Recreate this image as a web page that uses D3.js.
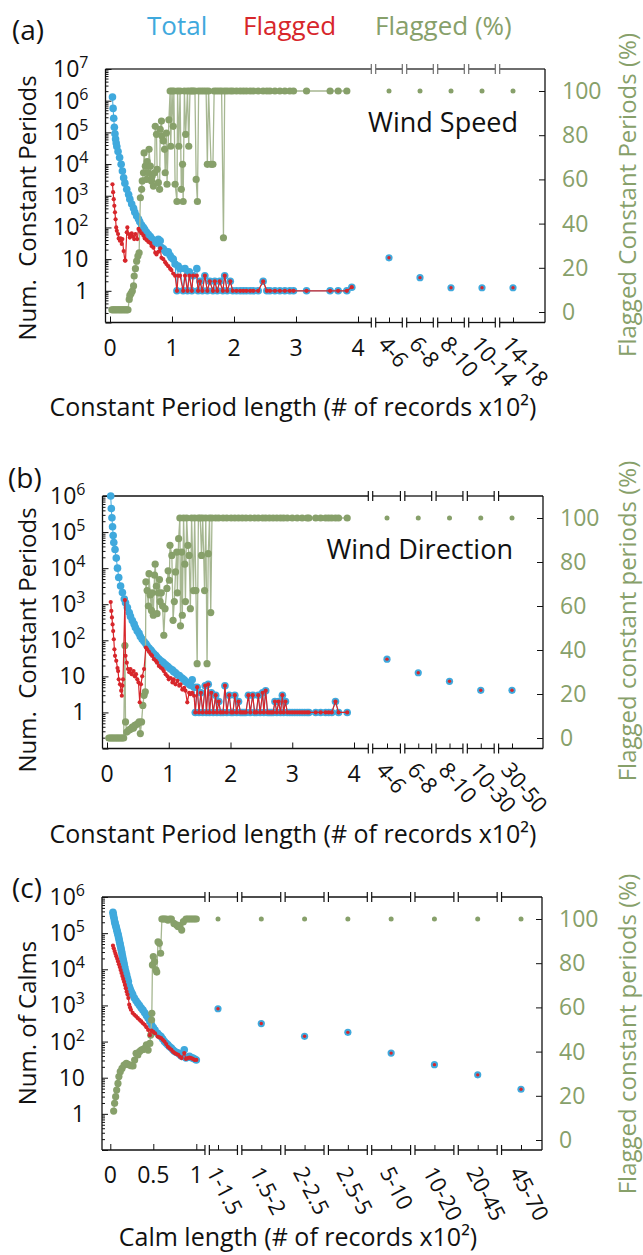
<!DOCTYPE html>
<html lang="en">
<head>
<meta charset="UTF-8">
<title>Constant periods and calms</title>
<script src="https://d3js.org/d3.v7.min.js"></script>
<style>
  body { margin: 0; background: #fff; }
  svg { display: block; font-family: "Open Sans", "Noto Sans", sans-serif; }
  .lbl { fill: #111; }
  .green { fill: #87a06a; }
</style>
</head>
<body>
<svg width="643" height="1255"></svg>
<script>
const BLUE = "#3fa9dd", RED = "#d7262b", GREEN = "#87a06a", GREEN_LINE = "#a6b791";

// (a) wind speed: [length x100 records, count]
const speedTotal = [[0.04,1.3e6],[0.05,5.7e5],[0.06,2.8e5],[0.07,1.45e5],[0.08,9e4],[0.09,6.2e4],[0.10,4.6e4],[0.11,3.6e4],[0.13,2.5e4],[0.155,1.6e4],[0.18,9.8e3],[0.20,6e3],[0.22,3.7e3],[0.24,2.5e3],[0.27,1.6e3],[0.30,1.1e3],[0.32,780],[0.35,550],[0.38,400],[0.40,300],[0.43,230],[0.46,183],[0.48,150],[0.51,120],[0.54,100],[0.56,85],[0.59,70],[0.62,60],[0.65,52],[0.67,45],[0.70,40],[0.73,35],[0.75,32],[0.78,42],[0.81,38],[0.83,23],[0.86,21],[0.89,18],[0.91,16],[0.94,17],[0.97,13],[0.99,11],[1.02,10],[1.05,7],[1.08,1],[1.10,6],[1.13,5],[1.18,1],[1.21,5],[1.25,1],[1.28,4],[1.32,1],[1.34,3],[1.40,5],[1.42,1],[1.45,2],[1.49,1],[1.53,3],[1.57,1],[1.61,2],[1.66,1],[1.69,2],[1.73,1],[1.77,2],[1.82,1],[1.85,3],[1.89,1],[1.94,2],[1.98,1],[2.04,1],[2.10,1],[2.15,1],[2.20,1],[2.26,1],[2.31,1],[2.39,1],[2.47,2],[2.53,1],[2.58,1],[2.66,1],[2.74,1],[2.82,1],[2.90,1],[2.96,1],[3.17,1],[3.55,1],[3.68,1],[3.82,1],[3.90,1.3]];
const speedFlagged = [[0.04,2300],[0.05,1300],[0.06,780],[0.07,480],[0.08,300],[0.09,180],[0.10,100],[0.11,78],[0.13,62],[0.14,45],[0.16,38],[0.17,45],[0.19,30],[0.20,43],[0.22,18],[0.24,9],[0.25,9],[0.27,70],[0.28,100],[0.30,62],[0.32,48],[0.33,55],[0.35,65],[0.37,52],[0.39,43],[0.41,62],[0.44,43],[0.46,90],[0.48,78],[0.51,65],[0.54,55],[0.56,45],[0.59,40],[0.62,35],[0.65,32],[0.67,26],[0.70,23],[0.73,16],[0.75,14],[0.78,17],[0.81,22],[0.83,11],[0.86,10],[0.89,8],[0.91,7],[0.94,6],[0.97,5],[0.99,4.5],[1.02,3.5],[1.05,3],[1.08,1],[1.10,3],[1.13,3],[1.18,1],[1.21,3],[1.25,1],[1.28,3],[1.32,1],[1.34,3],[1.40,3],[1.42,1],[1.45,2],[1.49,1],[1.53,3],[1.57,1],[1.61,2],[1.66,1],[1.69,2],[1.73,1],[1.77,2],[1.82,1],[1.85,3],[1.89,1],[1.94,2],[1.98,1],[2.04,1],[2.10,1],[2.15,1],[2.20,1],[2.26,1],[2.31,1],[2.39,1],[2.47,2],[2.53,1],[2.58,1],[2.66,1],[2.74,1],[2.82,1],[2.90,1],[2.96,1],[3.17,1],[3.55,1],[3.68,1],[3.82,1],[3.90,1.3]];
const speedPct = [[0.03,1],[0.05,1],[0.07,1],[0.09,1],[0.11,1],[0.13,1],[0.15,1],[0.17,1],[0.19,1],[0.21,1],[0.23,1],[0.25,1],[0.27,1],[0.29,1],[0.31,5.7],[0.32,7.5],[0.34,8.4],[0.36,9.5],[0.38,11.8],[0.39,16.3],[0.41,19.6],[0.43,23],[0.45,25.3],[0.47,26.8],[0.49,51.7],[0.51,55.5],[0.52,59.3],[0.54,63],[0.55,72],[0.57,66],[0.59,60],[0.60,68],[0.62,63],[0.63,73.6],[0.65,66],[0.67,59.3],[0.68,61.5],[0.70,57],[0.72,63],[0.73,84],[0.75,80.4],[0.76,64.6],[0.78,58.5],[0.80,55.5],[0.81,82.7],[0.83,86.4],[0.84,79.6],[0.86,77.4],[0.88,73.6],[0.89,63],[0.91,81],[0.92,57.8],[0.95,87],[0.97,100],[0.98,75],[1.00,100],[1.02,84],[1.03,100],[1.05,57.8],[1.08,50],[1.09,100],[1.11,75],[1.13,100],[1.15,55.5],[1.17,66.8],[1.18,50],[1.20,100],[1.22,80.4],[1.25,100],[1.27,75],[1.29,100],[1.32,100],[1.34,100],[1.37,100],[1.39,60],[1.41,50],[1.43,100],[1.47,100],[1.51,100],[1.55,100],[1.57,66.8],[1.59,100],[1.63,66.8],[1.66,66.8],[1.68,100],[1.72,100],[1.76,100],[1.80,100],[1.83,33.6],[1.85,100],[1.89,100],[1.94,100],[1.98,100],[2.04,100],[2.10,100],[2.15,100],[2.20,100],[2.26,100],[2.31,100],[2.39,100],[2.47,100],[2.53,100],[2.58,100],[2.66,100],[2.74,100],[2.82,100],[2.90,100],[2.96,100],[3.17,100],[3.55,100],[3.68,100],[3.82,100]];
const speedCats = ["4-6", "6-8", "8-10", "10-14", "14-18"];
const speedCatCount = [11, 2.6, 1.25, 1.25, 1.25];
const speedCatPct = [100, 100, 100, 100, 100];

// (b) wind direction
const dirTotal = [[0.06,1e6],[0.07,4.5e5],[0.08,2.5e5],[0.09,1.4e5],[0.10,8e4],[0.11,5.1e4],[0.13,3.3e4],[0.15,1.9e4],[0.17,1e4],[0.19,5.5e3],[0.22,3.2e3],[0.25,2.1e3],[0.28,1.4e3],[0.30,1.1e3],[0.33,810],[0.36,590],[0.38,460],[0.41,355],[0.44,280],[0.46,225],[0.49,182],[0.52,155],[0.54,127],[0.57,107],[0.60,92],[0.63,80],[0.65,70],[0.68,61],[0.71,54],[0.73,48],[0.76,42],[0.79,38],[0.81,34],[0.84,30],[0.87,27],[0.90,25],[0.92,23],[0.95,21],[0.98,19],[1.00,17.5],[1.03,16],[1.06,15],[1.08,13.5],[1.11,12.5],[1.14,11],[1.17,10.5],[1.19,9.6],[1.22,8.8],[1.25,8],[1.27,7.2],[1.30,6.7],[1.33,6.1],[1.35,5.7],[1.38,8],[1.41,5],[1.43,1],[1.46,5],[1.49,1],[1.52,3.5],[1.55,1],[1.59,5.5],[1.61,1],[1.64,6],[1.66,1],[1.69,3.5],[1.72,1],[1.76,3],[1.78,1],[1.81,2],[1.84,1],[1.88,1],[1.91,5.5],[1.94,1],[1.98,3],[2.01,1],[2.04,1],[2.07,3],[2.10,1],[2.13,2],[2.16,1],[2.19,1],[2.22,1],[2.25,1],[2.29,3],[2.32,1],[2.36,3],[2.39,1],[2.42,1],[2.45,3],[2.48,1],[2.52,3.5],[2.54,1],[2.57,4],[2.60,1],[2.63,1],[2.66,1],[2.69,1],[2.72,2],[2.75,1],[2.78,2],[2.81,1],[2.84,3],[2.86,1],[2.89,2],[2.92,1],[2.96,1],[3.00,1],[3.04,1],[3.08,1],[3.12,1],[3.16,1],[3.20,1],[3.24,1],[3.27,1],[3.38,1],[3.46,1],[3.54,1],[3.59,1],[3.64,1],[3.70,2],[3.75,1],[3.89,1]];
const dirFlagged = [[0.06,1150],[0.07,650],[0.08,430],[0.09,275],[0.10,180],[0.11,107],[0.12,56],[0.13,37],[0.15,27],[0.17,17],[0.18,14],[0.19,8.3],[0.21,6],[0.23,4],[0.24,2.9],[0.25,5.5],[0.26,8.3],[0.29,1300],[0.30,37],[0.32,24],[0.34,16],[0.36,13],[0.38,16],[0.40,11.5],[0.43,14],[0.45,10],[0.47,11.5],[0.49,8.3],[0.51,6.8],[0.53,1.9],[0.55,6],[0.57,10],[0.60,16],[0.63,63],[0.65,56],[0.68,48],[0.71,41],[0.73,37],[0.76,30],[0.79,27],[0.81,24],[0.84,19.5],[0.87,17.5],[0.90,16],[0.92,14],[0.95,11.5],[0.98,10],[1.00,8.3],[1.03,9],[1.06,6.8],[1.08,8.3],[1.11,6],[1.14,7.5],[1.17,5.5],[1.19,6],[1.22,4.3],[1.25,4.8],[1.27,4],[1.30,1.9],[1.33,3.5],[1.35,3.2],[1.38,3.5],[1.41,2.9],[1.43,1],[1.46,5],[1.49,1],[1.52,3.5],[1.55,1],[1.59,5.5],[1.61,1],[1.64,6],[1.66,1],[1.69,3.5],[1.72,1],[1.76,3],[1.78,1],[1.81,2],[1.84,1],[1.88,1],[1.91,5.5],[1.94,1],[1.98,3],[2.01,1],[2.04,1],[2.07,3],[2.10,1],[2.13,2],[2.16,1],[2.19,1],[2.22,1],[2.25,1],[2.29,3],[2.32,1],[2.36,3],[2.39,1],[2.42,1],[2.45,3],[2.48,1],[2.52,3.5],[2.54,1],[2.57,4],[2.60,1],[2.63,1],[2.66,1],[2.69,1],[2.72,2],[2.75,1],[2.78,2],[2.81,1],[2.84,3],[2.86,1],[2.89,2],[2.92,1],[2.96,1],[3.00,1],[3.04,1],[3.08,1],[3.12,1],[3.16,1],[3.20,1],[3.24,1],[3.27,1],[3.38,1],[3.46,1],[3.54,1],[3.59,1],[3.64,1],[3.70,2],[3.75,1],[3.89,1]];
const dirPct = [[0.03,0],[0.05,0],[0.07,0],[0.09,0],[0.11,0],[0.13,0],[0.15,0],[0.17,0],[0.19,0],[0.21,0],[0.23,0],[0.25,0],[0.27,0],[0.29,42],[0.30,7.3],[0.32,2.7],[0.35,3.5],[0.37,3.9],[0.39,4.2],[0.41,5],[0.43,4.5],[0.45,5.8],[0.47,6],[0.50,6.5],[0.52,7.3],[0.54,2],[0.56,7.3],[0.58,14.8],[0.60,19.4],[0.62,21],[0.63,71],[0.65,67],[0.67,60],[0.68,74.7],[0.70,65],[0.72,58],[0.73,66],[0.75,55.8],[0.77,74],[0.78,79],[0.80,69],[0.81,56.5],[0.83,66],[0.85,72],[0.86,62],[0.88,66],[0.90,60],[0.92,46.7],[0.94,58.8],[0.97,68],[0.99,76],[1.01,71.7],[1.02,87.6],[1.05,83],[1.07,53.5],[1.09,62],[1.11,75.5],[1.13,84.5],[1.14,66],[1.16,90.6],[1.18,100],[1.19,51],[1.21,84.5],[1.22,55.8],[1.24,100],[1.26,79],[1.27,62],[1.29,100],[1.31,87.6],[1.33,83],[1.35,58.8],[1.37,100],[1.40,67],[1.42,100],[1.44,67],[1.46,33.8],[1.48,100],[1.51,100],[1.53,83],[1.55,100],[1.58,67],[1.60,100],[1.62,33.8],[1.64,83.8],[1.66,100],[1.68,57],[1.70,100],[1.76,100],[1.81,100],[1.88,100],[1.94,100],[2.01,100],[2.07,100],[2.13,100],[2.19,100],[2.25,100],[2.32,100],[2.39,100],[2.45,100],[2.52,100],[2.57,100],[2.63,100],[2.69,100],[2.75,100],[2.81,100],[2.86,100],[2.92,100],[3.00,100],[3.08,100],[3.16,100],[3.24,100],[3.27,100],[3.38,100],[3.46,100],[3.54,100],[3.59,100],[3.64,100],[3.70,100],[3.75,100],[3.89,100]];
const dirCats = ["4-6", "6-8", "8-10", "10-30", "30-50"];
const dirCatCount = [30, 12.6, 7.3, 4.1, 4.1];
const dirCatPct = [100, 100, 100, 100, 100];

// (c) calms
const calmTotal = [[0.031,3.8e5],[0.035,3.3e5],[0.039,2.9e5],[0.045,2.5e5],[0.05,2.1e5],[0.055,1.9e5],[0.06,1.7e5],[0.065,1.55e5],[0.07,1.4e5],[0.075,1.25e5],[0.08,1.12e5],[0.085,1e5],[0.09,9.1e4],[0.095,8e4],[0.10,7.1e4],[0.105,6.2e4],[0.11,5.4e4],[0.115,4.8e4],[0.12,4.2e4],[0.125,3.7e4],[0.13,3.2e4],[0.135,2.8e4],[0.14,2.4e4],[0.145,2.1e4],[0.15,1.8e4],[0.155,1.6e4],[0.16,1.4e4],[0.165,1.2e4],[0.17,1.07e4],[0.18,8.6e3],[0.19,7e3],[0.20,5.6e3],[0.21,4.6e3],[0.22,3.4e3],[0.23,2.9e3],[0.24,2.5e3],[0.25,2.2e3],[0.26,2e3],[0.28,1.6e3],[0.30,1.35e3],[0.32,1.15e3],[0.34,1e3],[0.36,850],[0.38,740],[0.40,630],[0.42,530],[0.44,445],[0.46,360],[0.48,290],[0.50,245],[0.52,210],[0.55,170],[0.57,150],[0.59,138],[0.61,118],[0.63,100],[0.65,90],[0.67,81],[0.69,72],[0.71,66],[0.73,58],[0.75,53],[0.77,50],[0.79,48],[0.81,43],[0.83,39],[0.86,59],[0.88,35],[0.90,37],[0.92,39],[0.94,36],[0.96,35],[0.98,33],[1.0,31]];
const calmFlagged = [[0.031,4.5e4],[0.04,3.8e4],[0.05,3.2e4],[0.06,2.7e4],[0.07,2.3e4],[0.08,1.95e4],[0.09,1.65e4],[0.10,1.38e4],[0.11,1.15e4],[0.12,9.5e3],[0.13,7.9e3],[0.14,6.5e3],[0.15,5.4e3],[0.16,4.5e3],[0.17,3.7e3],[0.18,3e3],[0.19,2.4e3],[0.20,2e3],[0.21,1.6e3],[0.22,1.05e3],[0.23,880],[0.24,760],[0.26,620],[0.28,550],[0.30,500],[0.32,445],[0.34,400],[0.36,360],[0.38,320],[0.40,290],[0.42,250],[0.44,210],[0.46,150],[0.48,200],[0.50,185],[0.52,170],[0.55,138],[0.57,130],[0.59,125],[0.61,112],[0.63,100],[0.65,85],[0.67,72],[0.69,65],[0.71,59],[0.73,52],[0.75,48],[0.77,45],[0.79,43],[0.81,38],[0.83,35],[0.86,48],[0.88,33],[0.90,35],[0.92,36],[0.94,35],[0.96,33],[0.98,31],[1.0,31]];
const calmPct = [[0.039,13.1],[0.05,16.6],[0.062,19.6],[0.074,22.6],[0.089,25.6],[0.10,28.7],[0.116,30.9],[0.136,32.4],[0.16,33.9],[0.186,34.7],[0.205,34.2],[0.225,33.9],[0.245,33.6],[0.264,33.5],[0.283,36.2],[0.30,39.2],[0.32,38.5],[0.34,40],[0.36,40.7],[0.38,41],[0.40,41.5],[0.42,43],[0.44,40.7],[0.46,43.7],[0.47,47.5],[0.48,54.3],[0.483,57.3],[0.49,79.2],[0.50,83],[0.515,80.7],[0.53,77],[0.54,76],[0.555,89.7],[0.57,89],[0.585,84.5],[0.60,100],[0.615,100],[0.63,100],[0.65,100],[0.67,99.5],[0.69,100],[0.71,100],[0.74,98],[0.77,97.3],[0.79,96.5],[0.81,97],[0.83,95],[0.85,98.8],[0.88,100],[0.90,100],[0.92,100],[0.94,100],[0.96,100],[0.98,100],[1.0,100]];
const calmCats = ["1-1.5", "1.5-2", "2-2.5", "2.5-5", "5-10", "10-20", "20-45", "45-70"];
const calmCatCount = [810, 315, 140, 180, 48, 23, 12, 4.8];
const calmCatPct = [100, 100, 100, 100, 100, 100, 100, 100];

const panels = [
  { letter: "(a)", lx: 12, ly: 40, left: 105.5, right: 545, top: 69, bottom: 322.5, yMax: 1e7,
    p0: 312, p100: 91, x0: 110, x1: 358, xMax: 4, xTicks: [0, 1, 2, 3, 4], c0: 389, c1: 513,
    topColor: "#6e6e6e", topWidth: 2, catRot: 50,
    total: speedTotal, flagged: speedFlagged, pct: speedPct,
    cats: speedCats, catCount: speedCatCount, catPct: speedCatPct,
    note: "Wind Speed", noteX: 518, noteY: 132,
    yTitle: "Num.\u00a0 Constant Periods", yTitleY: 208, rTitle: "Flagged Constant Periods (%)", rTitleY: 195,
    xTitle: "Constant Period length (# of records x10\u00b2)", xTitleX: 293, xTitleY: 416 },
  { letter: "(b)", lx: 8, ly: 488, left: 102.5, right: 543, top: 496, bottom: 748.5, yMax: 1e6,
    p0: 738, p100: 518, x0: 107, x1: 354, xMax: 4, xTicks: [0, 1, 2, 3, 4], c0: 387, c1: 512,
    topColor: "#111", topWidth: 1.3, catRot: 50,
    total: dirTotal, flagged: dirFlagged, pct: dirPct,
    cats: dirCats, catCount: dirCatCount, catPct: dirCatPct,
    note: "Wind Direction", noteX: 513, noteY: 559,
    yTitle: "Num.\u00a0 Constant Periods", yTitleY: 640, rTitle: "Flagged constant periods (%)", rTitleY: 621,
    xTitle: "Constant Period length (# of records x10\u00b2)", xTitleX: 293, xTitleY: 843 },
  { letter: "(c)", lx: 12, ly: 898, left: 102, right: 542, top: 897, bottom: 1150, yMax: 1e6,
    p0: 1140, p100: 919, x0: 110.3, x1: 196.3, xMax: 1, xTicks: [0, 0.5, 1], c0: 218, c1: 521,
    topColor: "#111", topWidth: 1.3, catRot: 62,
    total: calmTotal, flagged: calmFlagged, pct: calmPct,
    cats: calmCats, catCount: calmCatCount, catPct: calmCatPct,
    note: "", noteX: 0, noteY: 0,
    yTitle: "Num. of Calms", yTitleY: 1023, rTitle: "Flagged constant periods (%)", rTitleY: 1034,
    xTitle: "Calm length (# of records x10\u00b2)", xTitleX: 298, xTitleY: 1246 }
];

const svg = d3.select("svg");

// legend
const legend = [["Total", BLUE, 147], ["Flagged", RED, 243], ["Flagged (%)", GREEN, 375]];
svg.selectAll(".legend").data(legend).join("text")
  .attr("x", d => d[2]).attr("y", 35)
  .attr("font-size", 26).attr("fill", d => d[1])
  .text(d => d[0]);

panels.forEach(drawPanel);

function hAxisWithBreaks(g, yPos, breaks, p, color, width) {
  const gap = 2.2;
  let xs = [p.left];
  breaks.forEach(b => { xs.push(b - gap); xs.push(b + gap); });
  xs.push(p.right);
  for (let i = 0; i < xs.length; i += 2) {
    g.append("line").attr("x1", xs[i]).attr("x2", xs[i + 1])
      .attr("y1", yPos).attr("y2", yPos)
      .attr("stroke", color).attr("stroke-width", width);
  }
  breaks.forEach(b => {
    [b - gap, b + gap].forEach(bx => {
      g.append("line").attr("x1", bx).attr("x2", bx)
        .attr("y1", yPos - 5).attr("y2", yPos + 5)
        .attr("stroke", color).attr("stroke-width", 1.2);
    });
  });
}

function drawPanel(p) {
  const g = svg.append("g");
  const x = d3.scaleLinear().domain([0, p.xMax]).range([p.x0, p.x1]);
  const xc = d3.scalePoint().domain(p.cats).range([p.c0, p.c1]);
  const y = d3.scaleLog().domain([0.1, p.yMax]).range([p.bottom, p.top]);
  const yp = d3.scaleLinear().domain([0, 100]).range([p.p0, p.p100]);

  // break positions between numeric part and categories
  const centers = p.cats.map(c => xc(c));
  const breaks = [(x(p.xMax) + centers[0]) / 2];
  for (let i = 1; i < centers.length; i++) breaks.push((centers[i - 1] + centers[i]) / 2);

  // frame
  hAxisWithBreaks(g, p.top, breaks, p, p.topColor, p.topWidth);
  hAxisWithBreaks(g, p.bottom, breaks, p, "#111", 1.3);
  g.append("line").attr("x1", p.left).attr("x2", p.left).attr("y1", p.top).attr("y2", p.bottom)
    .attr("stroke", "#111").attr("stroke-width", 1.3);
  g.append("line").attr("x1", p.right).attr("x2", p.right).attr("y1", p.top).attr("y2", p.bottom)
    .attr("stroke", "#111").attr("stroke-width", 1.3);

  // left log ticks
  const kMax = Math.round(Math.log10(p.yMax));
  const majors = d3.range(-1, kMax + 1).map(k => Math.pow(10, k));
  const minors = [];
  d3.range(-1, kMax).forEach(k => { for (let m = 2; m <= 9; m++) minors.push(m * Math.pow(10, k)); });
  const cleanAxis = sel => { sel.select(".domain").remove(); sel.selectAll("line").attr("stroke", "#111"); };
  g.append("g").attr("transform", `translate(${p.left},0)`)
    .call(d3.axisLeft(y).tickValues(majors).tickSize(-6).tickFormat(""))
    .call(cleanAxis);
  g.append("g").attr("transform", `translate(${p.left},0)`)
    .call(d3.axisLeft(y).tickValues(minors).tickSize(-3).tickFormat(""))
    .call(cleanAxis);

  // right ticks
  g.append("g").attr("transform", `translate(${p.right},0)`)
    .call(d3.axisRight(yp).tickValues([0, 20, 40, 60, 80, 100]).tickSize(-6).tickFormat(""))
    .call(cleanAxis);

  // bottom ticks
  g.append("g").attr("transform", `translate(0,${p.bottom})`)
    .call(d3.axisBottom(x).tickValues(p.xTicks).tickSize(-6).tickFormat(""))
    .call(cleanAxis);
  g.append("g").attr("transform", `translate(0,${p.bottom})`)
    .call(d3.axisBottom(xc).tickSize(-5).tickFormat(""))
    .call(cleanAxis);

  // left tick labels
  const labs = g.selectAll(".ylab").data(d3.range(0, kMax + 1)).join("text")
    .attr("class", "lbl")
    .attr("x", p.left - 17).attr("y", k => y(Math.pow(10, k)) + 8)
    .attr("text-anchor", "end").attr("font-size", 23);
  labs.each(function(k) {
    const t = d3.select(this);
    if (k === 0) t.text("1");
    else if (k === 1) t.text("10");
    else {
      t.append("tspan").text("10");
      t.append("tspan").attr("dy", -9).attr("font-size", 16).text(k);
    }
  });

  // right tick labels
  g.selectAll(".plab").data([0, 20, 40, 60, 80, 100]).join("text")
    .attr("class", "green")
    .attr("x", p.right + 17).attr("y", d => yp(d) + 8)
    .attr("font-size", 23)
    .text(d => d);

  // bottom numeric labels
  g.selectAll(".xlab").data(p.xTicks).join("text")
    .attr("class", "lbl")
    .attr("x", d => x(d)).attr("y", p.bottom + 33)
    .attr("text-anchor", "middle").attr("font-size", 23)
    .text(d => d);

  // category labels, rotated
  g.selectAll(".clab").data(p.cats).join("text")
    .attr("class", "lbl")
    .attr("font-size", 22)
    .attr("transform", d => `translate(${xc(d) - 12},${p.bottom + 22}) rotate(${p.catRot})`)
    .text(d => d);

  // series
  const line = d3.line().x(d => x(d[0]));
  g.append("path").datum(p.total)
    .attr("fill", "none").attr("stroke", BLUE).attr("stroke-width", 1)
    .attr("d", line.y(d => y(d[1])));
  g.selectAll(".tot").data(p.total).join("circle")
    .attr("cx", d => x(d[0])).attr("cy", d => y(d[1])).attr("r", 3.8).attr("fill", BLUE);

  g.append("path").datum(p.pct)
    .attr("fill", "none").attr("stroke", GREEN_LINE).attr("stroke-width", 1.3)
    .attr("d", d3.line().x(d => x(d[0])).y(d => yp(d[1])));
  g.selectAll(".pct").data(p.pct).join("circle")
    .attr("cx", d => x(d[0])).attr("cy", d => yp(d[1])).attr("r", 3.6).attr("fill", GREEN);

  g.append("path").datum(p.flagged)
    .attr("fill", "none").attr("stroke", RED).attr("stroke-width", 1.2)
    .attr("d", d3.line().x(d => x(d[0])).y(d => y(d[1])));
  g.selectAll(".flg").data(p.flagged).join("circle")
    .attr("cx", d => x(d[0])).attr("cy", d => y(d[1])).attr("r", 2.1).attr("fill", RED);

  // category points
  g.selectAll(".ctot").data(p.cats).join("circle")
    .attr("cx", d => xc(d)).attr("cy", (d, i) => y(p.catCount[i])).attr("r", 3.6).attr("fill", BLUE);
  g.selectAll(".cflg").data(p.cats).join("circle")
    .attr("cx", d => xc(d)).attr("cy", (d, i) => y(p.catCount[i])).attr("r", 1.7).attr("fill", RED);
  g.selectAll(".cpct").data(p.cats).join("circle")
    .attr("cx", d => xc(d)).attr("cy", (d, i) => yp(p.catPct[i])).attr("r", 2.5).attr("fill", GREEN);

  // texts
  g.append("text").attr("x", p.lx).attr("y", p.ly).attr("font-size", 28).attr("class", "lbl").text(p.letter);
  if (p.note) {
    g.append("text").attr("x", p.noteX).attr("y", p.noteY).attr("text-anchor", "end")
      .attr("font-size", 27).attr("class", "lbl").text(p.note);
  }
  g.append("text").attr("class", "lbl").attr("font-size", 24).attr("text-anchor", "middle")
    .attr("transform", `translate(36,${p.yTitleY}) rotate(-90)`).text(p.yTitle);
  g.append("text").attr("class", "green").attr("font-size", 24).attr("text-anchor", "middle")
    .attr("transform", `translate(636,${p.rTitleY}) rotate(-90)`).text(p.rTitle);
  g.append("text").attr("class", "lbl").attr("font-size", 25).attr("text-anchor", "middle")
    .attr("x", p.xTitleX).attr("y", p.xTitleY).text(p.xTitle);
}
</script>
</body>
</html>
